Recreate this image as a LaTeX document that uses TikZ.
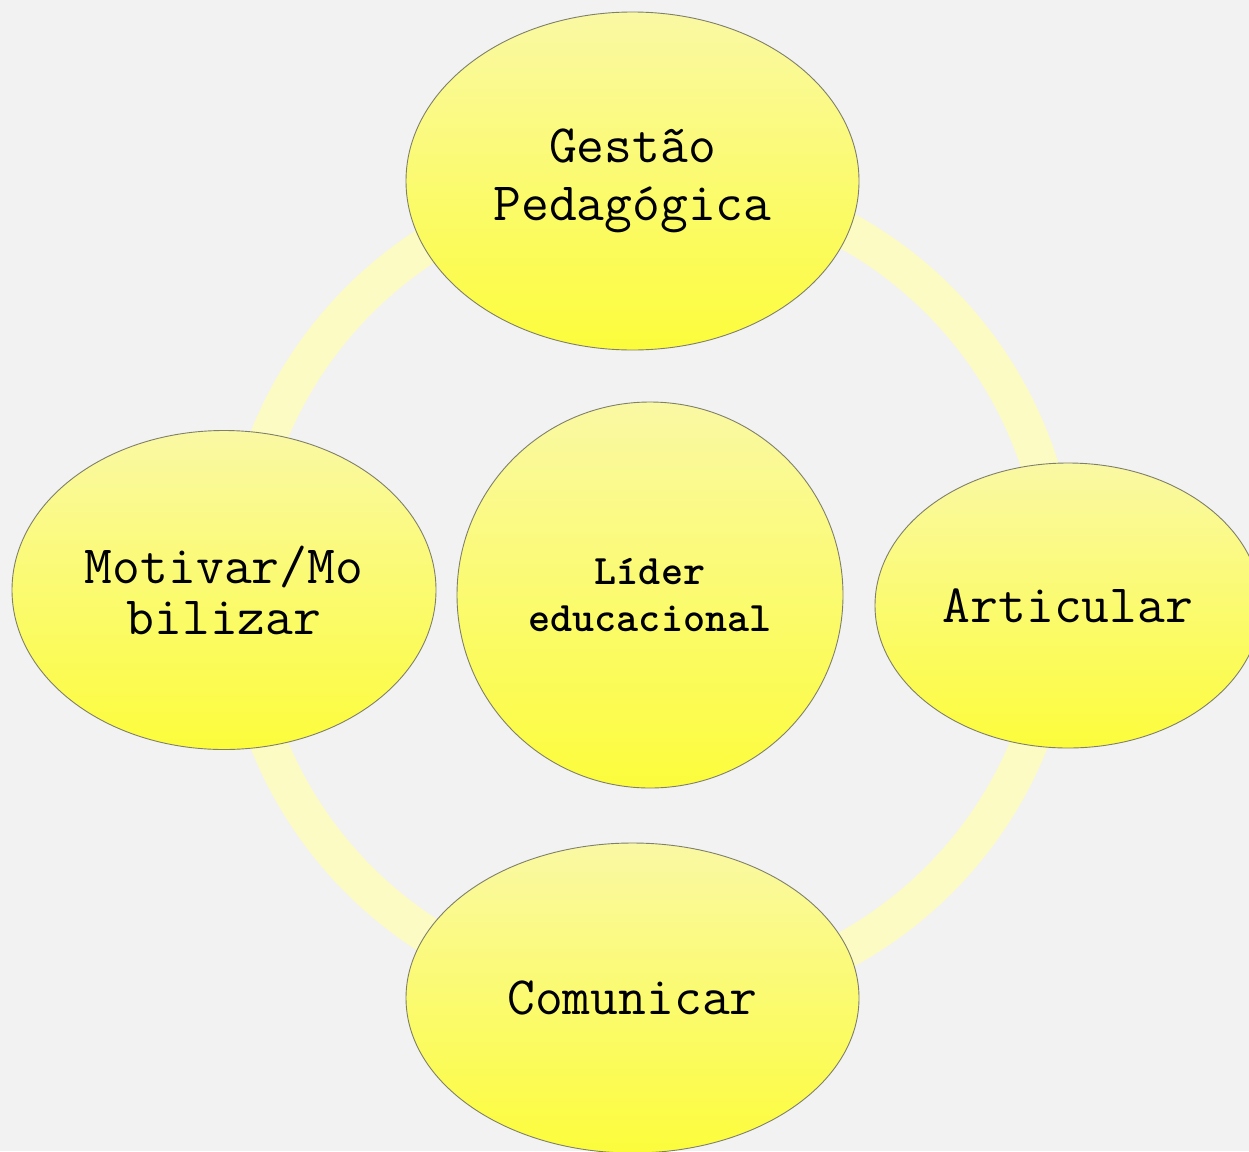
\documentclass[tikz,border=0pt]{standalone}
\usetikzlibrary{shapes.geometric}
\definecolor{bgc}{HTML}{F2F2F2}
\definecolor{ringc}{HTML}{FBFBC3}
\definecolor{topc}{HTML}{FAF9A4}
\definecolor{botc}{HTML}{FCFC3C}
\definecolor{edgec}{HTML}{7F7F6A}
\tikzset{
  bubble/.style={ellipse, draw=edgec, line width=0.9pt, top color=topc, bottom color=botc,
    inner sep=0pt, align=center, text=black},
  lbl/.style={font=\ttfamily\fontsize{54}{58}\selectfont},
  lbltight/.style={font=\ttfamily\fontsize{54}{51}\selectfont},
  centerlbl/.style={font=\ttfamily\bfseries\fontsize{42}{47}\selectfont},
}
\begin{document}
\begin{tikzpicture}[x=1pt,y=-1pt]
\useasboundingbox (0,0) rectangle (1249,1151);
\clip (0,0) rectangle (1249,1151);
\fill[bgc] (0,0) rectangle (1249,1151);
\coordinate (ringcenter) at (649,590);
\draw[ringc, line width=37pt] (ringcenter) circle [radius=410];
\node[bubble, lbl, minimum width=453, minimum height=338] (gestao) at (632.5,181) {Gestão\\Pedagógica};
\node[bubble, lbltight, minimum width=424, minimum height=319] (motivar) at (224,590) {Motivar/Mo\\bilizar};
\node[bubble, lbl, minimum width=386, minimum height=285] (articular) at (1068,605.5) {Articular};
\node[bubble, lbl, minimum width=453, minimum height=310] (comunicar) at (632.5,998) {Comunicar};
\node[bubble, circle, centerlbl, minimum size=386] (lider) at (650,595) {Líder\\educacional};
\end{tikzpicture}
\end{document}
